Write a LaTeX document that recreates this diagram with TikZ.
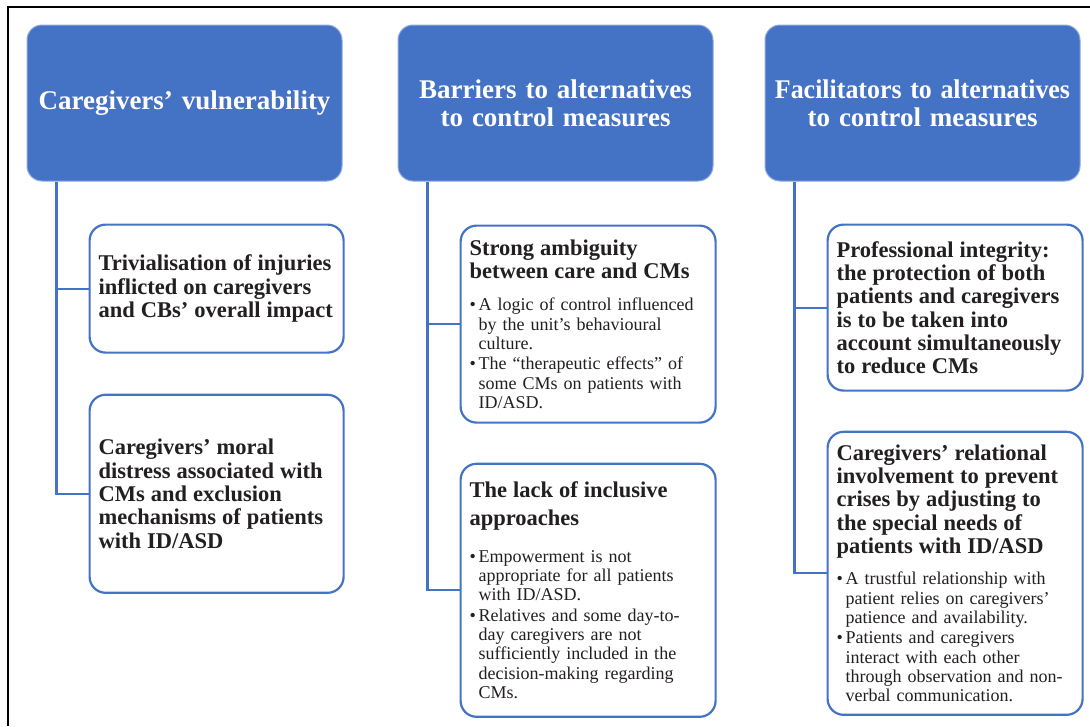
\documentclass[tikz,border=0pt]{standalone}
\usepackage{fontspec}
\usepackage{graphicx}
\setmainfont{Liberation Serif}
\usetikzlibrary{positioning}

\definecolor{themeblue}{RGB}{68,114,196}
\definecolor{headedge}{RGB}{143,170,220}
\definecolor{ink}{RGB}{35,31,32}

\newcommand{\titlesize}{\fontsize{22.5}{23.3}\selectfont\bfseries}
\newcommand{\bulletsize}{\fontsize{18}{19.3}\selectfont}
\newcommand{\bitem}[1]{\par\hangindent=9pt\hangafter=1\noindent\makebox[9pt][l]{\textbullet}#1\par}

\tikzset{
  head/.style={rectangle, rounded corners=15pt, fill=themeblue, draw=headedge,
    line width=1pt, minimum width=315pt, minimum height=156pt, text width=313pt,
    align=center, text=white, font=\fontsize{27}{28}\selectfont\bfseries, inner sep=0pt},
  sub/.style={rectangle, rounded corners=16pt, draw=themeblue, line width=2.2pt,
    fill=white, text=ink, align=left, inner xsep=9pt, inner ysep=0pt, font=\bulletsize},
  link/.style={draw=themeblue, line width=2.2pt},
  elbow/.style={to path={|- (\tikztotarget)}}
}

\begin{document}
\begin{tikzpicture}[x=1pt,y=-1pt]
  \useasboundingbox (0,0) rectangle (1090,726);
  \draw[line width=2pt] (7.7,726) -- (7.7,6.5) -- (1090,6.5);

  % the three themes
  \node[head] (vuln) at (184.5,103) {Caregivers’ vulnerability};
  \node[head] (barr) [right=55pt of vuln] {Barriers to alternatives\\to control measures};
  \node[head] (faci) [right=51pt of barr] {\scalebox{0.96}[1]{Facilitators to alternatives}\\to control measures};

  % sub-themes
  \node[sub, minimum height=128pt, text width=236pt] (triv) [below right=42pt and 62pt of vuln.south west]
    {{\titlesize Trivialisation of injuries\\inflicted on caregivers\\and CBs’ overall impact\par}};
  \node[sub, minimum height=198pt, text width=236pt] (moral) [below=40pt of triv]
    {{\titlesize Caregivers’ moral\\distress associated with\\CMs and exclusion\\mechanisms of patients\\with ID/ASD\par}};

  \node[sub, minimum height=197pt, text width=237pt] (ambig) [below right=43pt and 62pt of barr.south west]
    {{\titlesize Strong ambiguity\\between care and CMs\par}
     \vspace{13pt}
     \bitem{A logic of control influenced\newline by the unit’s behavioural\newline culture.}
     \vspace{1pt}
     \bitem{The “therapeutic effects” of\newline some CMs on patients with\newline ID/ASD.}};
  \node[sub, minimum height=253pt, text width=237pt] (incl) [below=39pt of ambig]
    {{\fontsize{22.5}{28}\selectfont\bfseries The lack of inclusive\\approaches\par}
     \vspace{17pt}
     \bitem{Empowerment is not\newline appropriate for all patients\newline with ID/ASD.}
     \vspace{1pt}
     \bitem{Relatives and some day-to-\newline day caregivers are not\newline sufficiently included in the\newline decision-making regarding\newline CMs.}};

  \node[sub, minimum height=166pt, text width=237pt] (integ) [below right=42pt and 62pt of faci.south west]
    {{\titlesize Professional integrity:\\the protection of both\\patients and caregivers\\is to be taken into\\account simultaneously\\to reduce CMs\par}};
  \node[sub, minimum height=283pt, text width=237pt] (relat) [below=39pt of integ]
    {{\titlesize Caregivers’ relational\\involvement to prevent\\crises by adjusting to\\the special needs of\\patients with ID/ASD\par}
     \vspace{12pt}
     \bitem{A trustful relationship with\newline patient relies on caregivers’\newline patience and availability.}
     \vspace{1pt}
     \bitem{Patients and caregivers\newline interact with each other\newline through observation and non-\newline verbal communication.}};

  % tree connectors
  \coordinate (vulnroot) at ([xshift=30pt]vuln.south west);
  \coordinate (barrroot) at ([xshift=30pt]barr.south west);
  \coordinate (faciroot) at ([xshift=30pt]faci.south west);
  \path[link]
    (vulnroot) edge[elbow] (triv)
               edge[elbow] (moral)
    (barrroot) edge[elbow] (ambig)
               edge[elbow] (incl)
    (faciroot) edge[elbow] (integ)
               edge[elbow] (relat);
\end{tikzpicture}
\end{document}
